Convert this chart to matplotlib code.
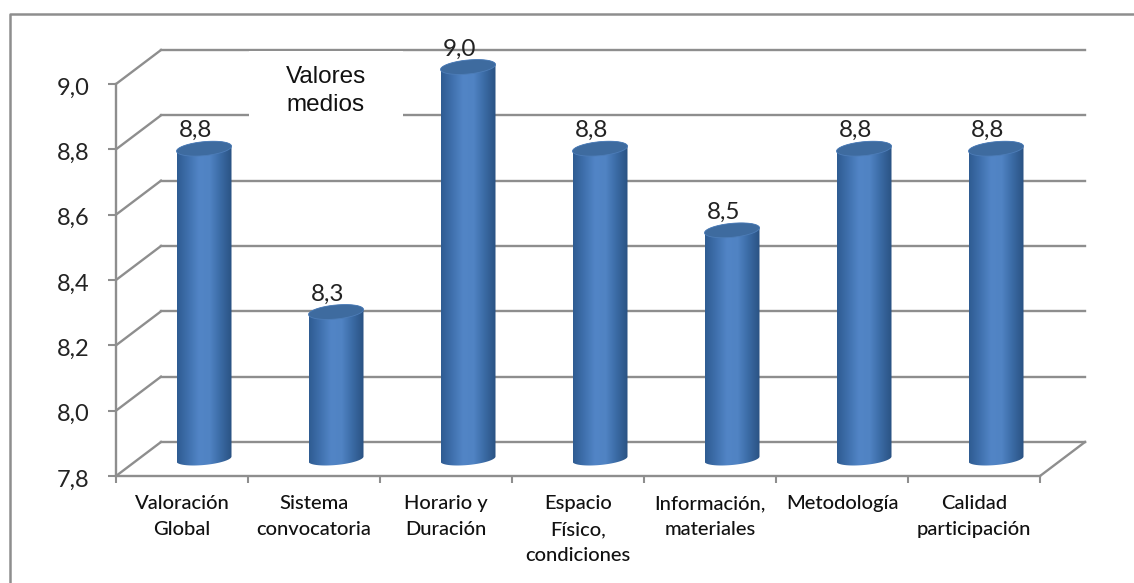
import numpy as np
import matplotlib
matplotlib.use("Agg")
import matplotlib.pyplot as plt
import matplotlib.transforms as mtransforms
from matplotlib.colors import LinearSegmentedColormap
from matplotlib.lines import Line2D
from matplotlib.patches import Polygon, Rectangle
from matplotlib.path import Path

categories = ["Valoración\nGlobal", "Sistema\nconvocatoria", "Horario y\nDuración",
              "Espacio\nFísico,\ncondiciones", "Información,\nmateriales",
              "Metodología", "Calidad\nparticipación"]
values = [8.75, 8.25, 9.0, 8.75, 8.5, 8.75, 8.75]
value_labels = ["8,8", "8,3", "9,0", "8,8", "8,5", "8,8", "8,8"]
yticks = [7.8, 8.0, 8.2, 8.4, 8.6, 8.8, 9.0]
ytick_labels = ["7,8", "8,0", "8,2", "8,4", "8,6", "8,8", "9,0"]

W, H = 1134, 583
GREY = "#8e8e8e"
TEXT = "#222222"

fig = plt.figure(figsize=(W / 100, H / 100), dpi=100, facecolor="white")
ax = fig.add_axes([116 / W, (H - 476) / H, 924 / W, 392 / H])
ax.set_xlim(0, 7)
ax.set_ylim(7.8, 9.0)
ax.patch.set_visible(False)

# shift from the front plane to the back wall, and to the middle of the depth
def shifted(dx, dy):
    return ax.transData + mtransforms.ScaledTranslation(dx / 100, dy / 100, fig.dpi_scale_trans)

back = shifted(45, 34)
mid = shifted(22, 17)

def diagonal(x, y):
    x0, y0 = ax.transData.transform((x, y))
    ax.add_artist(Line2D([x0, x0 + 45], [y0, y0 + 34], color=GREY, lw=1.7, transform=None,
                         zorder=1, clip_on=False))

# walls
for y in yticks:
    ax.plot([0, 7], [y, y], color=GREY, lw=1.7, transform=back, clip_on=False, zorder=1)
    diagonal(0, y)
diagonal(7, 7.8)

# cylinders
px = 7 / 924
py = 1.2 / 392
half = 27.5 * px
cmap = LinearSegmentedColormap.from_list("cyl", ["#2f5c92", "#3f70ad", "#5285c6", "#5083c3", "#3a6aa4", "#2a5283"])
grad = np.linspace(0, 1, 128).reshape(1, -1)
t = np.linspace(0, 2 * np.pi, 80)
for i, v in enumerate(values):
    cx = i + 0.5
    tb = np.linspace(np.pi, 2 * np.pi, 40)
    low_x = cx + half * np.cos(tb)
    low_y = 7.8 + py * (6 * np.sin(tb) + 2.5 * np.cos(tb))
    tt = np.linspace(0, np.pi, 40)
    up_x = cx + half * np.cos(tt)
    up_y = v + py * (7 * np.sin(tt) + 2.5 * np.cos(tt))
    outline = np.column_stack([np.r_[low_x, up_x], np.r_[low_y, up_y]])
    im = ax.imshow(grad, extent=[cx - half, cx + half, 7.7, v + 0.05], aspect="auto",
                   cmap=cmap, transform=mid, zorder=3)
    im.set_clip_box(fig.bbox)
    im.set_clip_path(Path(outline), transform=mid)
    cap = np.column_stack([cx + half * np.cos(t), v + py * (7 * np.sin(t) + 2.5 * np.cos(t))])
    ax.add_patch(Polygon(cap, closed=True, facecolor="#3e6b9f", edgecolor="#4d7db8", lw=0.6,
                         transform=mid, zorder=4, clip_on=False))
    ax.annotate(value_labels[i], (cx, v), xycoords=mid, xytext=(-8, 18), textcoords="offset pixels",
                ha="center", va="center", fontsize=17.5, color=TEXT, family="Lato", zorder=5)
ax.set_xlim(0, 7)
ax.set_ylim(7.8, 9.0)

# axes
for s in ["top", "right"]:
    ax.spines[s].set_visible(False)
for s in ["left", "bottom"]:
    ax.spines[s].set_color(GREY)
    ax.spines[s].set_linewidth(1.7)
    ax.spines[s].set_zorder(2)
ax.set_yticks(yticks)
ax.set_yticklabels(ytick_labels, fontsize=17, color=TEXT, family="Lato")
ax.tick_params(axis="y", length=6, width=1.5, color=GREY, pad=13)
# digits sit a little under the tick in the original
for lab in ax.get_yticklabels():
    lab.set_transform(lab.get_transform() + mtransforms.ScaledTranslation(0, -2 / 100, fig.dpi_scale_trans))
ax.set_xticks(range(8))
ax.set_xticklabels([])
ax.tick_params(axis="x", length=5, width=1.5, color=GREY)
ax.set_xticks(np.arange(7) + 0.5, minor=True)
ax.set_xticklabels(categories, minor=True, fontsize=14.5, color="#111111", family="Lato",
                   linespacing=1.62, fontweight="medium")
ax.tick_params(axis="x", which="minor", length=0, pad=14)

# title box sits over the back wall
fig.add_artist(Rectangle((249 / W, (H - 118) / H), 154 / W, 67 / H, facecolor="white",
                         edgecolor="none", transform=fig.transFigure, zorder=6))
fig.text(326 / W, (H - 91) / H, "Valores\nmedios", ha="center", va="center", fontsize=17.5,
         color="#111111", family="Liberation Sans", linespacing=1.3, zorder=7)

# outer frame, open at the right and bottom
fig.add_artist(Line2D([9.5 / W, 9.5 / W, 1], [0, (H - 13.5) / H, (H - 13.5) / H], color=GREY,
                      lw=1.8, transform=fig.transFigure))

fig.savefig("out.png", dpi=100)
